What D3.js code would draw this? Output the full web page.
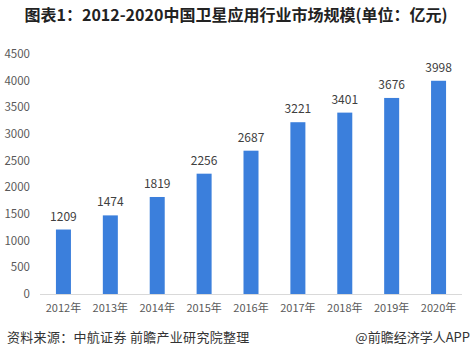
<!DOCTYPE html>
<html>
<head>
<meta charset="utf-8">
<script src="https://cdn.jsdelivr.net/npm/d3@7"></script>
<style>
  body { margin: 0; background: #fff; }
  svg { display: block; font-family: "Noto Sans CJK SC", "Microsoft YaHei", sans-serif; }
</style>
</head>
<body>
<svg id="chart" width="474" height="361"></svg>
<script>
var years = ["2012年", "2013年", "2014年", "2015年", "2016年", "2017年", "2018年", "2019年", "2020年"];
var values = [1209, 1474, 1819, 2256, 2687, 3221, 3401, 3676, 3998];
var yTicks = [0, 500, 1000, 1500, 2000, 2500, 3000, 3500, 4000, 4500];

var svg = d3.select("#chart"),
    width = +svg.attr("width"),
    height = +svg.attr("height");

var margin = {left: 40, right: 12, top: 54, bottom: 67};

var x = d3.scaleBand()
  .domain(years)
  .range([margin.left, width - margin.right])
  .paddingInner(0.68)
  .paddingOuter(0.34);

var y = d3.scaleLinear()
  .domain([0, 4500])
  .range([height - margin.bottom, margin.top]);

// title
svg.append("text")
  .attr("x", 236)
  .attr("y", 21)
  .attr("text-anchor", "middle")
  .attr("font-size", 16)
  .attr("font-weight", "bold")
  .attr("fill", "#222")
  .text("图表1：2012-2020中国卫星应用行业市场规模(单位：亿元)");

// y axis labels
svg.append("g")
  .selectAll("text")
  .data(yTicks)
  .enter().append("text")
  .attr("x", 30)
  .attr("y", function(d) { return y(d); })
  .attr("dy", "0.35em")
  .attr("text-anchor", "end")
  .attr("font-size", 11.5)
  .attr("fill", "#595959")
  .text(function(d) { return d; });

// baseline
svg.append("line")
  .attr("x1", margin.left)
  .attr("x2", width - margin.right)
  .attr("y1", y(0) + 0.5)
  .attr("y2", y(0) + 0.5)
  .attr("stroke", "#d9d9d9");

// bars
svg.append("g")
  .selectAll("rect")
  .data(values)
  .enter().append("rect")
  .attr("x", function(d, i) { return x(years[i]); })
  .attr("y", function(d) { return y(d); })
  .attr("width", x.bandwidth())
  .attr("height", function(d) { return y(0) - y(d); })
  .attr("fill", "#3b7fdc");

// value labels
svg.append("g")
  .selectAll("text")
  .data(values)
  .enter().append("text")
  .attr("x", function(d, i) { return x(years[i]) + x.bandwidth() / 2; })
  .attr("y", function(d) { return y(d) - 9; })
  .attr("text-anchor", "middle")
  .attr("font-size", 12)
  .attr("fill", "#404040")
  .text(function(d) { return d; });

// x labels
svg.append("g")
  .selectAll("text")
  .data(years)
  .enter().append("text")
  .attr("x", function(d) { return x(d) + x.bandwidth() / 2; })
  .attr("y", y(0) + 18)
  .attr("text-anchor", "middle")
  .attr("font-size", 11)
  .attr("fill", "#595959")
  .text(function(d) { return d; });

// footer
svg.append("text")
  .attr("x", 7)
  .attr("y", 342)
  .attr("font-size", 13)
  .attr("letter-spacing", 0.3)
  .attr("fill", "#333")
  .text("资料来源：中航证券 前瞻产业研究院整理");

svg.append("text")
  .attr("x", 470)
  .attr("y", 342)
  .attr("text-anchor", "end")
  .attr("font-size", 13)
  .attr("fill", "#333")
  .text("@前瞻经济学人APP");
</script>
</body>
</html>
